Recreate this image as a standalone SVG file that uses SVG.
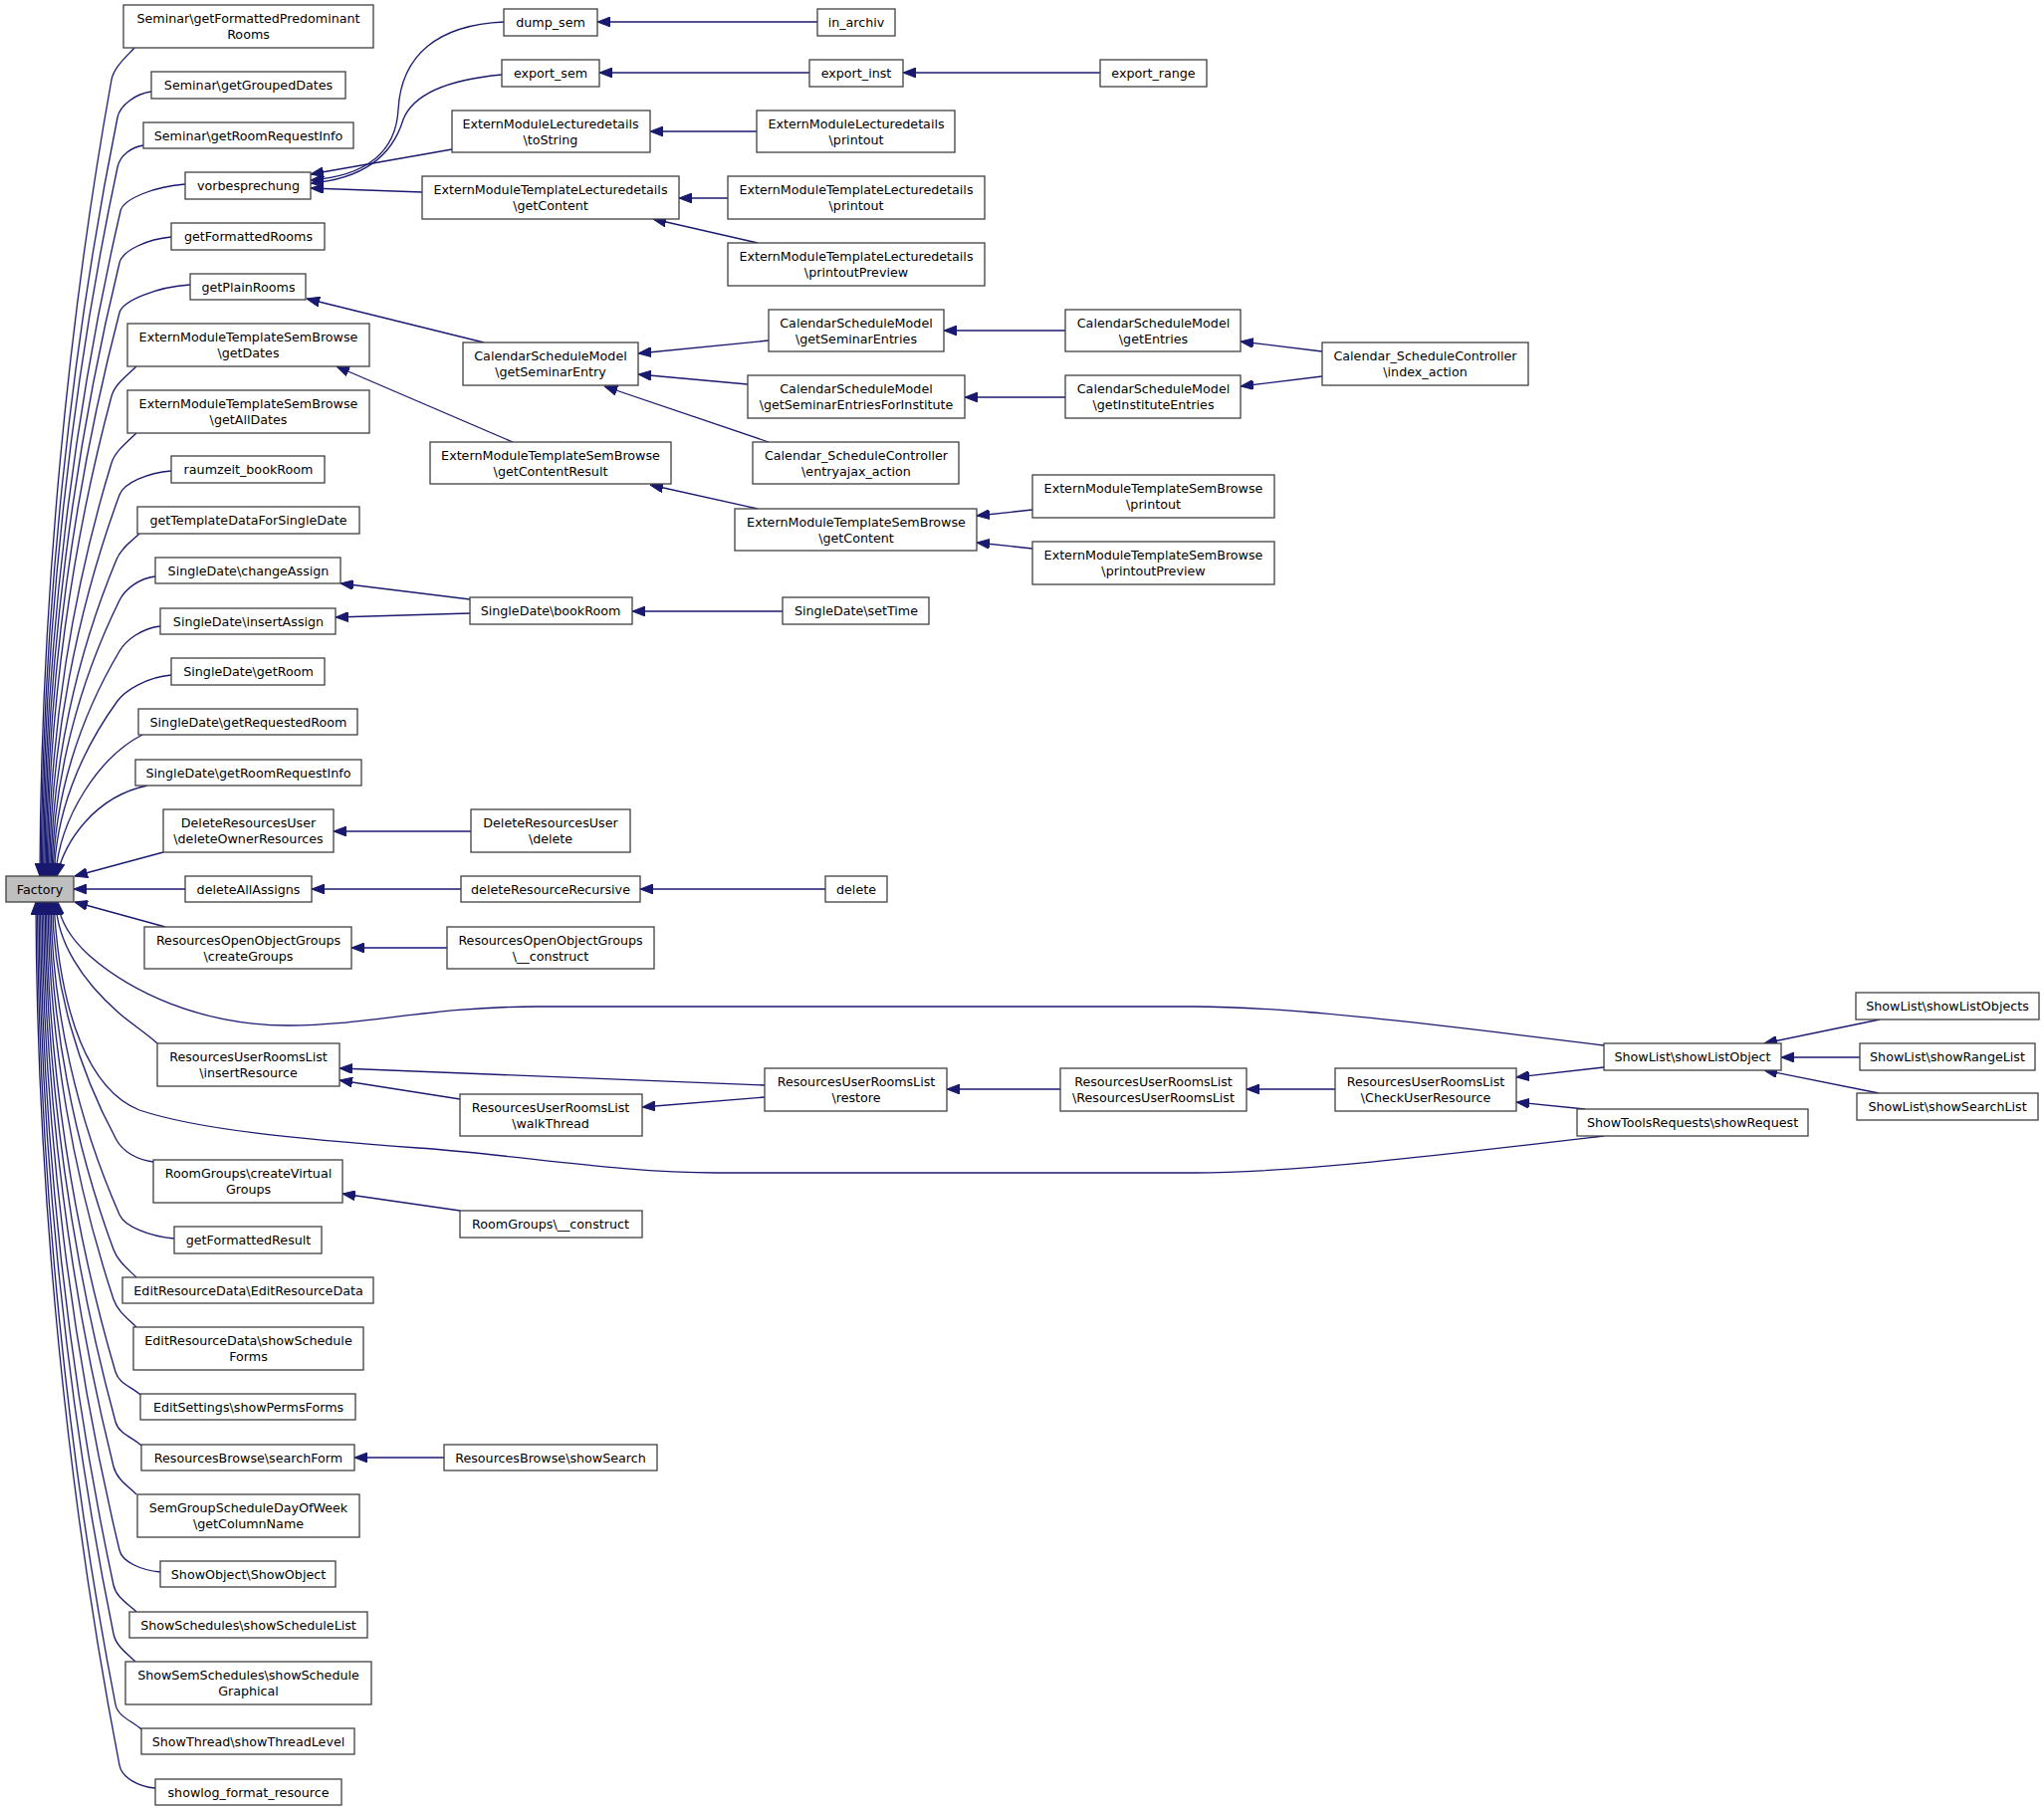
<svg xmlns="http://www.w3.org/2000/svg" width="2053" height="1819" viewBox="0 0 2053 1819">
<defs>
<style>
.n rect{fill:#ffffff;stroke:#404040;stroke-width:1.3}
.n text{font-family:"DejaVu Sans",sans-serif;font-size:12.7px;text-anchor:middle;fill:#000000}
#factory rect{fill:#bfbfbf}
.e path{fill:none;stroke:#191970;stroke-width:1.3;marker-end:url(#ah)}
</style>
<marker id="ah" viewBox="0 0 13 10" refX="13" refY="5" markerWidth="13" markerHeight="10" markerUnits="userSpaceOnUse" orient="auto"><path d="M0,0 L13,5 L0,10 z" fill="#191970" stroke="#191970" stroke-width="1"/></marker>
</defs>
<rect x="0" y="0" width="2053" height="1819" fill="#ffffff"/>
<g id="edges" class="e">
<path d="M135,48 C128,56 114.3,67.2 112,80 C68.8,320 41,600 40,880"/>
<path d="M152,92 C136.7,94 120.6,105.3 118,118 C71.9,346.6 42.2,613.3 41.2,880"/>
<path d="M144,146 C132.3,148 120.7,155.3 118,168 C72.6,381.6 43.4,630.8 42.4,880"/>
<path d="M186,185 C156.8,187 123.9,199.3 121,212 C74.6,412.4 44.6,646.2 43.6,880"/>
<path d="M172,238 C148.6,240 123.1,251.4 120,264 C74.9,448.8 45.8,664.4 44.8,880"/>
<path d="M191,286 C159,288 123.3,301.4 120,314 C75.6,483.8 47,681.9 46,880"/>
<path d="M137,368 C129,376 115.4,385.4 112,398 C73.1,542.6 48.2,711.3 47.2,880"/>
<path d="M137,435 C129,443 115.8,452.6 112,465 C73.8,589.5 49.4,734.8 48.4,880"/>
<path d="M172,473 C148.6,475 124.5,484.8 120,497 C77.8,611.9 50.6,746 49.6,880"/>
<path d="M140,536 C132,544 122,550 117,562 C77.3,657.4 51.8,768.7 50.8,880"/>
<path d="M156,579 C139.8,581 125.7,591.3 120,603 C79.2,686.1 53,783 52,880"/>
<path d="M161,629 C142.6,631 126.6,642.8 120,654 C79.9,721.8 54.2,800.9 53.2,880"/>
<path d="M172,678 C147.7,680 125.6,693.5 118,704 C79.8,756.8 55.4,818.4 54.4,880"/>
<path d="M143,738 C100,760 60,820 55.6,880"/>
<path d="M148,789 C95,800 65,845 57,880"/>
<path d="M164,856 L75,880"/>
<path d="M186,893 L74,893"/>
<path d="M166,931 L75,906"/>
<path d="M1611,1050 C1450,1030 1300,1011 1199,1011 L540,1011 C430,1011 370,1030 290,1030 C200,1030 130,995 90,960 C70,942 60,925 58,906"/>
<path d="M158,1048 C150,1040 129.8,1026.6 120,1018 C81.6,984.4 57,945.2 56,906"/>
<path d="M1611,1141 C1450,1160 1300,1178 1200,1178 L720,1178 C620,1178 520,1160 420,1153 C300,1144 200,1135 140,1115 C90,1095 60,1020 54,906"/>
<path d="M154,1167 C137.4,1165 123.2,1156.4 117,1145 C78.3,1073.3 53.5,989.7 52.5,906"/>
<path d="M175,1244 C150.3,1242 125.2,1231.9 120,1220 C78.6,1125.8 52,1015.9 51,906"/>
<path d="M137,1283 C129,1275 118.5,1267.2 114,1255 C75.3,1150.3 50.5,1028.2 49.5,906"/>
<path d="M137,1333 C129,1325 118.1,1317.3 114,1305 C74.4,1185.3 49,1045.7 48,906"/>
<path d="M141,1401 C133,1393 119.7,1390.5 116,1378 C74.3,1236.4 47.5,1071.2 46.5,906"/>
<path d="M142,1452 C134,1444 119.4,1440.5 116,1428 C73.4,1271.4 46,1088.7 45,906"/>
<path d="M137,1501 C129,1493 117.1,1485.6 114,1473 C71.7,1302.9 44.5,1104.5 43.5,906"/>
<path d="M161,1579 C142.6,1577 123,1569.6 120,1557 C73.2,1361.7 43,1133.9 42,906"/>
<path d="M137,1619 C129,1611 116.7,1604.7 114,1592 C69.9,1386.2 41.5,1146.1 40.5,906"/>
<path d="M136,1669 C128,1661 116.6,1653.7 114,1641 C69,1420.5 40,1163.3 39,906"/>
<path d="M142,1737 C134,1729 118.5,1724.8 116,1712 C68.9,1470.2 38.5,1188.1 37.5,906"/>
<path d="M156,1796 C139.8,1795 122.5,1785.8 120,1773 C69.6,1512.9 37,1209.5 36,906"/>
<path d="M506,22 C440,25 403,55 400,110 C397,165 350,178 312,181"/>
<path d="M504,75 C450,80 415,95 405,120 C393,160 360,180 312,184"/>
<path d="M454,150 L312,175"/>
<path d="M424,193 L312,189"/>
<path d="M821,22 L600,22"/>
<path d="M813,73 L602,73"/>
<path d="M1105,73 L907,73"/>
<path d="M760,132 L653,132"/>
<path d="M731,199 L682,199"/>
<path d="M761,244 L656,220"/>
<path d="M486,344 L308,300"/>
<path d="M515,444 L338,368"/>
<path d="M772,342 L641,355"/>
<path d="M751,386 L641,376"/>
<path d="M772,444 L607,388"/>
<path d="M1070,332 L948,332"/>
<path d="M1070,399 L969,399"/>
<path d="M1328,353 L1246,343"/>
<path d="M1328,378 L1246,388"/>
<path d="M761,511 L653,487"/>
<path d="M1037,512 L981,518"/>
<path d="M1037,551 L981,545"/>
<path d="M472,602 L342,586"/>
<path d="M472,616 L337,620"/>
<path d="M786,614 L635,614"/>
<path d="M473,835 L335,835"/>
<path d="M463,893 L313,893"/>
<path d="M829,893 L643,893"/>
<path d="M449,952 L353,952"/>
<path d="M768,1090 L341,1073"/>
<path d="M462,1104 L341,1085"/>
<path d="M768,1102 L645,1112"/>
<path d="M1065,1094 L951,1094"/>
<path d="M1341,1094 L1252,1094"/>
<path d="M1611,1072 L1523,1082"/>
<path d="M1592,1114 L1523,1107"/>
<path d="M1888,1024 L1772,1048"/>
<path d="M1868,1062 L1789,1062"/>
<path d="M1887,1098 L1772,1075"/>
<path d="M462,1216 L344,1199"/>
<path d="M446,1464 L356,1464"/>
</g>
<g id="factory" class="n"><rect x="6" y="880" width="68" height="26"/><text x="40" y="897.5">Factory</text></g>
<g id="n1" class="n"><rect x="124" y="5" width="251" height="43"/><text x="249.5" y="23">Seminar\getFormattedPredominant</text><text x="249.5" y="39">Rooms</text></g>
<g id="n2" class="n"><rect x="152" y="72" width="195" height="27"/><text x="249.5" y="90">Seminar\getGroupedDates</text></g>
<g id="n3" class="n"><rect x="144" y="123" width="211" height="26"/><text x="249.5" y="140.5">Seminar\getRoomRequestInfo</text></g>
<g id="n4" class="n"><rect x="186" y="173" width="126" height="27"/><text x="249.5" y="191">vorbesprechung</text></g>
<g id="n5" class="n"><rect x="172" y="224" width="154" height="27"/><text x="249.5" y="242">getFormattedRooms</text></g>
<g id="n6" class="n"><rect x="191" y="275" width="116" height="26"/><text x="249.5" y="292.5">getPlainRooms</text></g>
<g id="n7" class="n"><rect x="128" y="325" width="243" height="43"/><text x="249.5" y="343">ExternModuleTemplateSemBrowse</text><text x="249.5" y="359">\getDates</text></g>
<g id="n8" class="n"><rect x="128" y="392" width="243" height="43"/><text x="249.5" y="410">ExternModuleTemplateSemBrowse</text><text x="249.5" y="426">\getAllDates</text></g>
<g id="n9" class="n"><rect x="172" y="458" width="154" height="27"/><text x="249.5" y="476">raumzeit_bookRoom</text></g>
<g id="n10" class="n"><rect x="138" y="509" width="223" height="27"/><text x="249.5" y="527">getTemplateDataForSingleDate</text></g>
<g id="n11" class="n"><rect x="156" y="560" width="186" height="26"/><text x="249.5" y="577.5">SingleDate\changeAssign</text></g>
<g id="n12" class="n"><rect x="161" y="611" width="176" height="26"/><text x="249.5" y="628.5">SingleDate\insertAssign</text></g>
<g id="n13" class="n"><rect x="172" y="661" width="154" height="27"/><text x="249.5" y="679">SingleDate\getRoom</text></g>
<g id="n14" class="n"><rect x="139" y="712" width="220" height="26"/><text x="249.5" y="729.5">SingleDate\getRequestedRoom</text></g>
<g id="n15" class="n"><rect x="136" y="763" width="227" height="26"/><text x="249.5" y="780.5">SingleDate\getRoomRequestInfo</text></g>
<g id="n16" class="n"><rect x="164" y="813" width="171" height="43"/><text x="249.5" y="831">DeleteResourcesUser</text><text x="249.5" y="847">\deleteOwnerResources</text></g>
<g id="n17" class="n"><rect x="186" y="880" width="127" height="26"/><text x="249.5" y="897.5">deleteAllAssigns</text></g>
<g id="n18" class="n"><rect x="145" y="931" width="208" height="42"/><text x="249.5" y="948.5">ResourcesOpenObjectGroups</text><text x="249.5" y="964.5">\createGroups</text></g>
<g id="n19" class="n"><rect x="158" y="1048" width="183" height="43"/><text x="249.5" y="1066">ResourcesUserRoomsList</text><text x="249.5" y="1082">\insertResource</text></g>
<g id="n20" class="n"><rect x="154" y="1165" width="190" height="43"/><text x="249.5" y="1183">RoomGroups\createVirtual</text><text x="249.5" y="1199">Groups</text></g>
<g id="n21" class="n"><rect x="175" y="1232" width="148" height="27"/><text x="249.5" y="1250">getFormattedResult</text></g>
<g id="n22" class="n"><rect x="123" y="1283" width="252" height="26"/><text x="249.5" y="1300.5">EditResourceData\EditResourceData</text></g>
<g id="n23" class="n"><rect x="134" y="1333" width="231" height="43"/><text x="249.5" y="1351">EditResourceData\showSchedule</text><text x="249.5" y="1367">Forms</text></g>
<g id="n24" class="n"><rect x="141" y="1400" width="216" height="26"/><text x="249.5" y="1417.5">EditSettings\showPermsForms</text></g>
<g id="n25" class="n"><rect x="142" y="1451" width="214" height="26"/><text x="249.5" y="1468.5">ResourcesBrowse\searchForm</text></g>
<g id="n26" class="n"><rect x="138" y="1501" width="223" height="43"/><text x="249.5" y="1519">SemGroupScheduleDayOfWeek</text><text x="249.5" y="1535">\getColumnName</text></g>
<g id="n27" class="n"><rect x="161" y="1568" width="176" height="26"/><text x="249.5" y="1585.5">ShowObject\ShowObject</text></g>
<g id="n28" class="n"><rect x="130" y="1619" width="239" height="26"/><text x="249.5" y="1636.5">ShowSchedules\showScheduleList</text></g>
<g id="n29" class="n"><rect x="126" y="1669" width="247" height="43"/><text x="249.5" y="1687">ShowSemSchedules\showSchedule</text><text x="249.5" y="1703">Graphical</text></g>
<g id="n30" class="n"><rect x="142" y="1736" width="214" height="26"/><text x="249.5" y="1753.5">ShowThread\showThreadLevel</text></g>
<g id="n31" class="n"><rect x="156" y="1787" width="187" height="26"/><text x="249.5" y="1804.5">showlog_format_resource</text></g>
<g id="m1" class="n"><rect x="506" y="9" width="94" height="27"/><text x="553" y="27">dump_sem</text></g>
<g id="m2" class="n"><rect x="821" y="9" width="78" height="27"/><text x="860" y="27">in_archiv</text></g>
<g id="m3" class="n"><rect x="504" y="60" width="98" height="27"/><text x="553" y="78">export_sem</text></g>
<g id="m4" class="n"><rect x="813" y="60" width="94" height="27"/><text x="860" y="78">export_inst</text></g>
<g id="m5" class="n"><rect x="1105" y="60" width="107" height="27"/><text x="1158.5" y="78">export_range</text></g>
<g id="m6" class="n"><rect x="454" y="111" width="199" height="42"/><text x="553" y="128.5">ExternModuleLecturedetails</text><text x="553" y="144.5">\toString</text></g>
<g id="m7" class="n"><rect x="760" y="111" width="199" height="42"/><text x="860" y="128.5">ExternModuleLecturedetails</text><text x="860" y="144.5">\printout</text></g>
<g id="m8" class="n"><rect x="424" y="177" width="258" height="43"/><text x="553" y="195">ExternModuleTemplateLecturedetails</text><text x="553" y="211">\getContent</text></g>
<g id="m9" class="n"><rect x="731" y="177" width="258" height="43"/><text x="860" y="195">ExternModuleTemplateLecturedetails</text><text x="860" y="211">\printout</text></g>
<g id="m10" class="n"><rect x="731" y="244" width="258" height="43"/><text x="860" y="262">ExternModuleTemplateLecturedetails</text><text x="860" y="278">\printoutPreview</text></g>
<g id="m11" class="n"><rect x="465" y="344" width="176" height="43"/><text x="553" y="362">CalendarScheduleModel</text><text x="553" y="378">\getSeminarEntry</text></g>
<g id="m12" class="n"><rect x="772" y="311" width="176" height="42"/><text x="860" y="328.5">CalendarScheduleModel</text><text x="860" y="344.5">\getSeminarEntries</text></g>
<g id="m13" class="n"><rect x="751" y="377" width="218" height="43"/><text x="860" y="395">CalendarScheduleModel</text><text x="860" y="411">\getSeminarEntriesForInstitute</text></g>
<g id="m14" class="n"><rect x="756" y="444" width="207" height="42"/><text x="860" y="461.5">Calendar_ScheduleController</text><text x="860" y="477.5">\entryajax_action</text></g>
<g id="m15" class="n"><rect x="1070" y="311" width="176" height="42"/><text x="1158.5" y="328.5">CalendarScheduleModel</text><text x="1158.5" y="344.5">\getEntries</text></g>
<g id="m16" class="n"><rect x="1070" y="377" width="176" height="43"/><text x="1158.5" y="395">CalendarScheduleModel</text><text x="1158.5" y="411">\getInstituteEntries</text></g>
<g id="m17" class="n"><rect x="1328" y="344" width="207" height="43"/><text x="1431.5" y="362">Calendar_ScheduleController</text><text x="1431.5" y="378">\index_action</text></g>
<g id="m18" class="n"><rect x="432" y="444" width="242" height="42"/><text x="553" y="461.5">ExternModuleTemplateSemBrowse</text><text x="553" y="477.5">\getContentResult</text></g>
<g id="m19" class="n"><rect x="738" y="511" width="243" height="42"/><text x="860" y="528.5">ExternModuleTemplateSemBrowse</text><text x="860" y="544.5">\getContent</text></g>
<g id="m20" class="n"><rect x="1037" y="477" width="243" height="43"/><text x="1158.5" y="495">ExternModuleTemplateSemBrowse</text><text x="1158.5" y="511">\printout</text></g>
<g id="m21" class="n"><rect x="1037" y="544" width="243" height="43"/><text x="1158.5" y="562">ExternModuleTemplateSemBrowse</text><text x="1158.5" y="578">\printoutPreview</text></g>
<g id="m22" class="n"><rect x="472" y="600" width="163" height="27"/><text x="553" y="618">SingleDate\bookRoom</text></g>
<g id="m23" class="n"><rect x="786" y="600" width="147" height="27"/><text x="860" y="618">SingleDate\setTime</text></g>
<g id="m24" class="n"><rect x="473" y="813" width="160" height="43"/><text x="553" y="831">DeleteResourcesUser</text><text x="553" y="847">\delete</text></g>
<g id="m25" class="n"><rect x="463" y="880" width="180" height="26"/><text x="553" y="897.5">deleteResourceRecursive</text></g>
<g id="m26" class="n"><rect x="829" y="880" width="62" height="26"/><text x="860" y="897.5">delete</text></g>
<g id="m27" class="n"><rect x="449" y="931" width="208" height="42"/><text x="553" y="948.5">ResourcesOpenObjectGroups</text><text x="553" y="964.5">\__construct</text></g>
<g id="m28" class="n"><rect x="768" y="1073" width="183" height="43"/><text x="860" y="1091">ResourcesUserRoomsList</text><text x="860" y="1107">\restore</text></g>
<g id="m29" class="n"><rect x="462" y="1099" width="183" height="42"/><text x="553" y="1116.5">ResourcesUserRoomsList</text><text x="553" y="1132.5">\walkThread</text></g>
<g id="m30" class="n"><rect x="462" y="1216" width="183" height="27"/><text x="553" y="1234">RoomGroups\__construct</text></g>
<g id="m31" class="n"><rect x="1065" y="1073" width="187" height="43"/><text x="1158.5" y="1091">ResourcesUserRoomsList</text><text x="1158.5" y="1107">\ResourcesUserRoomsList</text></g>
<g id="m32" class="n"><rect x="1341" y="1073" width="182" height="43"/><text x="1432" y="1091">ResourcesUserRoomsList</text><text x="1432" y="1107">\CheckUserResource</text></g>
<g id="m33" class="n"><rect x="1611" y="1048" width="178" height="27"/><text x="1700" y="1066">ShowList\showListObject</text></g>
<g id="m34" class="n"><rect x="1584" y="1114" width="232" height="27"/><text x="1700" y="1132">ShowToolsRequests\showRequest</text></g>
<g id="m35" class="n"><rect x="1864" y="997" width="184" height="27"/><text x="1956" y="1015">ShowList\showListObjects</text></g>
<g id="m36" class="n"><rect x="1868" y="1048" width="176" height="27"/><text x="1956" y="1066">ShowList\showRangeList</text></g>
<g id="m37" class="n"><rect x="1865" y="1098" width="182" height="27"/><text x="1956" y="1116">ShowList\showSearchList</text></g>
<g id="m38" class="n"><rect x="446" y="1451" width="214" height="26"/><text x="553" y="1468.5">ResourcesBrowse\showSearch</text></g>
</svg>
